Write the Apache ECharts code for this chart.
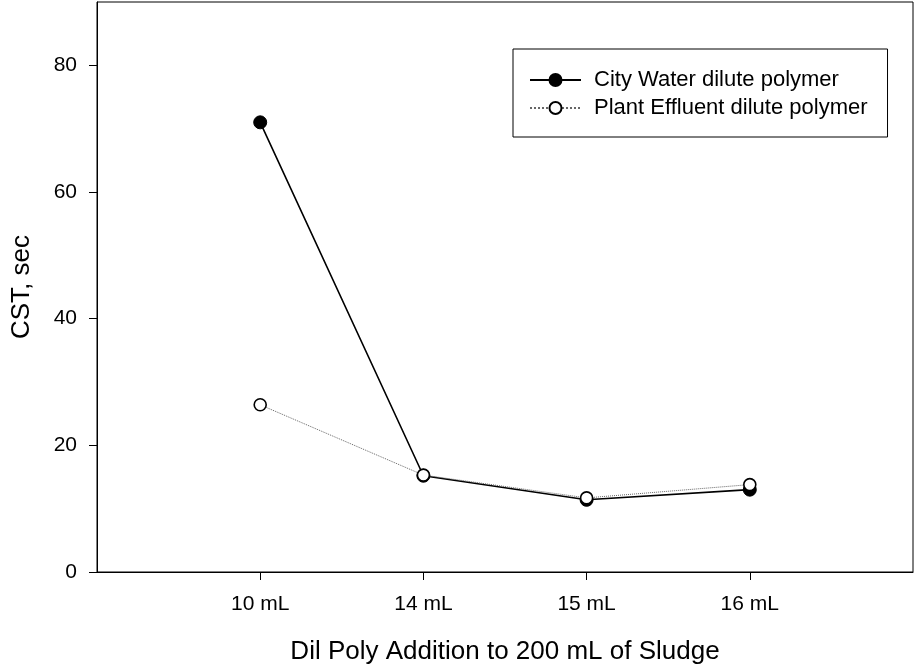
<!DOCTYPE html>
<html>
<head>
<meta charset="utf-8">
<script src="https://cdn.jsdelivr.net/npm/echarts@6/dist/echarts.min.js"></script>
<style>
  html, body { margin: 0; padding: 0; background: #fff; }
  #chart { width: 916px; height: 668px; }
</style>
</head>
<body>
<div id="chart"></div>
<script>
const categories = ['10 mL', '14 mL', '15 mL', '16 mL']
const cityWater = [71.0, 15.2, 11.4, 13.0]
const plantEffluent = [26.4, 15.3, 11.7, 13.8]
const yTicks = [0, 20, 40, 60, 80]
const xPos = [1, 2, 3, 4]

let font = 'Liberation Sans, Arial, sans-serif'
let myChart = echarts.init(document.getElementById('chart'))

function pairs(vals) {
    return vals.map((v, i) => [xPos[i], v])
}

var option = {
    animation: false,
    backgroundColor: '#fff',
    textStyle: { fontFamily: font },
    grid: {
        left: 97, right: 3, top: 2, bottom: 96,
        outerBoundsMode: 'none',
        show: true, borderColor: '#000', borderWidth: 1
    },
    legend: {
        orient: 'vertical',
        left: 513, top: 49,
        padding: [20, 20, 18, 16],
        itemGap: 6,
        itemWidth: 51, itemHeight: 15,
        borderColor: '#000', borderWidth: 1,
        textStyle: { fontFamily: font, fontSize: 22, color: '#000', padding: [0, 0, 0, 8] },
        data: ['City Water dilute polymer', 'Plant Effluent dilute polymer']
    },
    xAxis: {
        type: 'value',
        min: 0, max: 5, interval: 1,
        name: 'Dil Poly Addition to 200 mL of Sludge',
        nameLocation: 'middle',
        nameGap: 67,
        nameTextStyle: { fontFamily: font, fontSize: 26, color: '#000' },
        axisLine: { lineStyle: { color: '#000', width: 1 } },
        axisTick: { customValues: xPos, length: 8, lineStyle: { color: '#000' } },
        axisLabel: {
            customValues: xPos,
            margin: 22,
            fontFamily: font, fontSize: 21, color: '#000',
            formatter: v => categories[v - 1] || ''
        },
        splitLine: { show: false }
    },
    yAxis: {
        type: 'value',
        min: 0, max: 90, interval: 20,
        name: 'CST, sec',
        nameLocation: 'middle',
        nameGap: 62,
        nameTextStyle: { fontFamily: font, fontSize: 26, color: '#000' },
        axisLine: { show: true, lineStyle: { color: '#000', width: 1 } },
        axisTick: { show: true, customValues: yTicks, length: 8, lineStyle: { color: '#000' } },
        axisLabel: {
            customValues: yTicks,
            margin: 20,
            fontFamily: font, fontSize: 21, color: '#000'
        },
        splitLine: { show: false }
    },
    series: [
        {
            name: 'City Water dilute polymer',
            type: 'line',
            data: pairs(cityWater),
            symbol: 'circle',
            symbolSize: 13,
            itemStyle: { color: '#000', borderColor: '#000', borderWidth: 1 },
            lineStyle: { color: '#000', width: 1.6, type: 'solid' },
            z: 2
        },
        {
            name: 'Plant Effluent dilute polymer',
            type: 'line',
            data: pairs(plantEffluent),
            symbol: 'circle',
            symbolSize: 12,
            itemStyle: { color: '#fff', borderColor: '#000', borderWidth: 1.6 },
            lineStyle: { color: '#666', width: 1, type: 'dotted' },
            z: 3
        }
    ]
}

myChart.setOption(option)
</script>
</body>
</html>
